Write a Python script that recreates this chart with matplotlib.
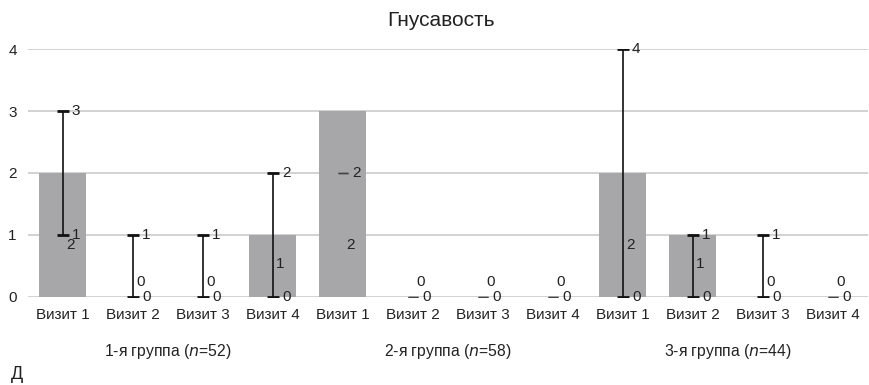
import numpy as np
import matplotlib.pyplot as plt

plt.rcParams['font.family'] = ['Liberation Sans Narrow', 'Liberation Sans', 'DejaVu Sans']

visits = ['Визит 1', 'Визит 2', 'Визит 3', 'Визит 4'] * 3
groups = ['1-я группа', '2-я группа', '3-я группа']
group_n = [52, 58, 44]

# bar heights, whisker ends and the value printed inside each column
bar_values = [2, 0, 0, 1, 3, 0, 0, 0, 2, 1, 0, 0]
upper = [3, 1, 1, 2, 2, 0, 0, 0, 4, 1, 1, 0]
lower = [1, 0, 0, 0, 2, 0, 0, 0, 0, 0, 0, 0]
inner_labels = [2, 0, 0, 1, 2, 0, 0, 0, 2, 1, 0, 0]

x = np.arange(len(bar_values))
hi = np.array(upper)
lo = np.array(lower)
text_col = '#222222'

fig = plt.figure(figsize=(8.69, 3.85), dpi=100)
ax = fig.add_axes([0.032, 0.2286, 0.9666, 0.6441])

ax.bar(x, bar_values, width=0.67, color='#a7a7a9', zorder=2)

# whiskers with a real range get bold caps, flat ones only a thin dash
ranged = hi != lo
ax.errorbar(x[ranged], (hi + lo)[ranged] / 2, yerr=(hi - lo)[ranged] / 2, fmt='none',
            ecolor='#111111', elinewidth=1.2, capsize=4.5, capthick=2, zorder=3)
ax.errorbar(x[~ranged], hi[~ranged], yerr=0, fmt='none', ecolor='#444444',
            elinewidth=1, capsize=3.5, capthick=1, zorder=3)

for xi, h, l, lab in zip(x, upper, lower, inner_labels):
    ax.text(xi + 0.13, h, str(h), ha='left', va='center', fontsize=11, color=text_col, zorder=4)
    if l != h:
        ax.text(xi + 0.13, l, str(l), ha='left', va='center', fontsize=11, color=text_col, zorder=4)
    ax.text(xi + 0.05, 0.24 + 0.3 * lab, str(lab), ha='left', va='center', fontsize=11,
            color=text_col, zorder=4)

ax.set_xlim(-0.5, len(x) - 0.5)
ax.set_ylim(0, 4)
ax.set_yticks([0, 1, 2, 3, 4])
ax.set_xticks(x)
ax.set_xticklabels(visits, fontsize=11, color=text_col)
ax.tick_params(axis='both', length=0, labelsize=11, labelcolor=text_col)
ax.tick_params(axis='y', pad=8)
ax.tick_params(axis='x', pad=8)
ax.yaxis.grid(True, color='#c6c6c6', linewidth=1.1, zorder=0)
for s in ax.spines.values():
    s.set_visible(False)

for g, (name, n) in enumerate(zip(groups, group_n)):
    ax.text(g * 4 + 1.5, -0.22, name + ' ($\\it{n}$=' + str(n) + ')', transform=ax.get_xaxis_transform(),
            ha='center', va='center', fontsize=11.3, color=text_col)

fig.text(0.507, 1 - 21 / 385, 'Гнусавость', fontsize=15, color=text_col, ha='center', va='center')
fig.text(0.012, 0.005, 'Д', fontsize=13, color=text_col, ha='left', va='bottom')

fig.savefig('out.png', dpi=100)
